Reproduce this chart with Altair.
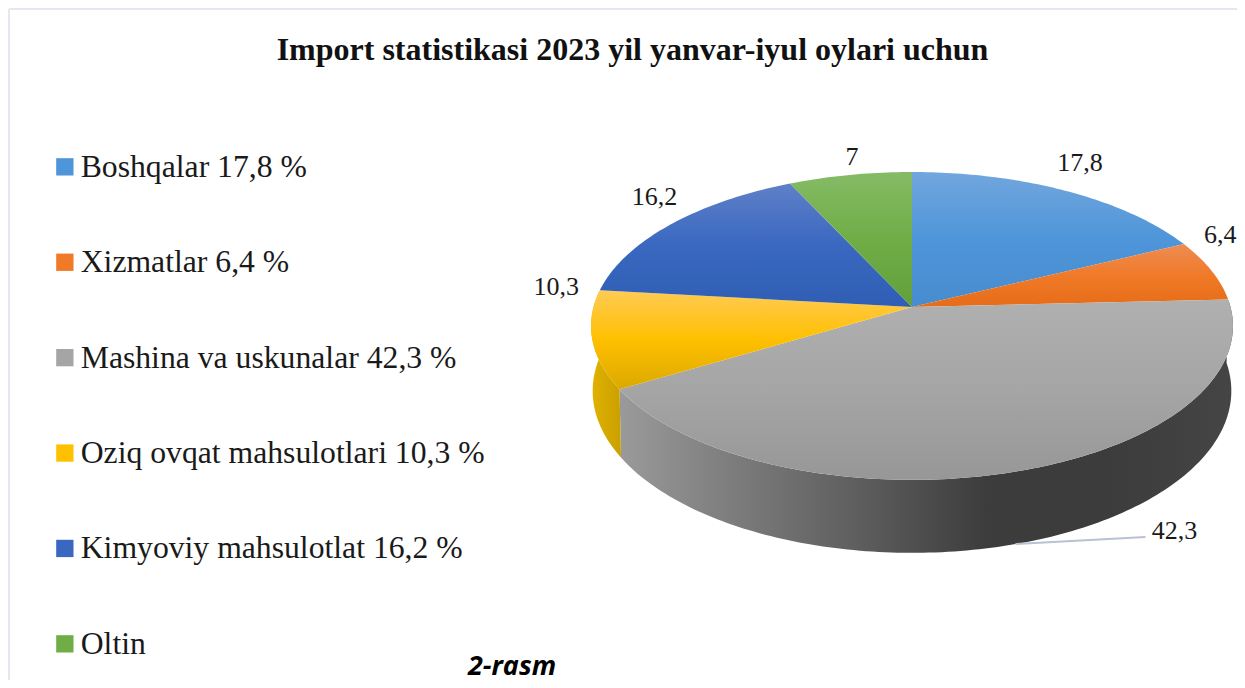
import math
import altair as alt

# ---- data ----
categories = ["Boshqalar 17,8 %", "Xizmatlar 6,4 %", "Mashina va uskunalar 42,3 %",
              "Oziq ovqat mahsulotlari 10,3 %", "Kimyoviy mahsulotlat 16,2 %", "Oltin"]
values = [17.8, 6.4, 42.3, 10.3, 16.2, 7.0]
value_labels = ["17,8", "6,4", "42,3", "10,3", "16,2", "7"]
title_text = "Import statistikasi 2023 yil yanvar-iyul oylari uchun"
caption_text = ["2-rasm"]

# ---- styles ----
base_colors = ["#4e95d9", "#f07a28", "#a5a5a5", "#ffc000", "#3a68c0", "#70ad47"]
top_stops = [
    ("#72a6de", "#4e95d9", "#478cce"),
    ("#ee8c55", "#f07a28", "#e66c18"),
    ("#b0b0b0", "#a5a5a5", "#979797"),
    ("#ffcb55", "#ffc000", "#dca800"),
    ("#5f80c8", "#3a68c0", "#2f5eb4"),
    ("#85bb66", "#70ad47", "#62a03c"),
]
FONT = "Liberation Serif"
W, H = 1229, 672

# ---- 3D pie geometry: perspective projection of the disc ----
AX, BY, K, CX, CY, DEPTH, SHRINK = 318.5, 151.6, 0.123, 904, 299, 64, 0.995
label_offsets = [(15, -28), (9, -35), (159, -13), (-36, -53), (-16, -28), (2, -18)]


def top_pt(deg):
    t = math.radians(deg)
    sx, cy = math.sin(t), math.cos(t)
    w = 1 + K * cy
    return [CX + AX * sx / w, CY - BY * cy / w]


def bottom_pt(deg):
    t = math.radians(deg)
    sx, cy = math.sin(t), math.cos(t)
    w = 1 + K * cy
    return [CX + SHRINK * AX * sx / w, CY - BY * cy / w + DEPTH / w]


def angles(a, b):
    n = max(2, int((b - a) / 1.0))
    return [a + (b - a) * i / n for i in range(n + 1)]


def feature(ring):
    ring = ring + [ring[0]]
    return {"type": "Feature", "properties": {},
            "geometry": {"type": "Polygon", "coordinates": [ring]}}


bounds = [0.0]
for v in values:
    bounds.append(bounds[-1] + v * 3.6)


def grad(stops, horizontal=False):
    n = len(stops) - 1
    return alt.LinearGradient(
        gradient="linear",
        stops=[alt.GradientStop(color=c, offset=i / n) for i, c in enumerate(stops)],
        x1=0, x2=1 if horizontal else 0, y1=0, y2=0 if horizontal else 1,
    )


def shape(ring, fill):
    return alt.Chart(alt.Data(values=[feature(ring)])).mark_geoshape(
        fill=fill, strokeWidth=0
    ).project(type="identity", scale=1, translate=[0, 0])


layers = []

# side walls (Mashina, Oziq ovqat)
wall_fills = {
    2: grad(["#9a9a9a", "#7a7a7a", "#5c5c5c", "#3c3c3c", "#3c3c3c", "#454545"], horizontal=True),
    3: grad(["#e2b200", "#c9a000"], horizontal=True),
}
for i, fill in wall_fills.items():
    a = angles(bounds[i], bounds[i + 1])
    layers.append(shape([top_pt(d) for d in a] + [bottom_pt(d) for d in reversed(a)], fill))

# top faces
for i, stops in enumerate(top_stops):
    a = angles(bounds[i], bounds[i + 1])
    layers.append(shape([[CX, CY]] + [top_pt(d) for d in a], grad(stops)))

xs = alt.Scale(domain=[0, W], nice=False, zero=False)
ys = alt.Scale(domain=[H, 0], nice=False, zero=False)
X = lambda f: alt.X(f, type="quantitative", scale=xs, axis=None)
Y = lambda f: alt.Y(f, type="quantitative", scale=ys, axis=None)

# leader line for the largest slice
mid = [(bounds[i] + bounds[i + 1]) / 2 for i in range(len(values))]
lead_start = bottom_pt(mid[2])
leader = [
    {"x": lead_start[0], "y": lead_start[1], "o": 0},
    {"x": lead_start[0] + 130, "y": lead_start[1] - 7, "o": 1},
]
layers.append(
    alt.Chart(alt.Data(values=leader)).mark_line(color="#b7c2d2", strokeWidth=2)
    .encode(x=X("x"), y=Y("y"), order=alt.Order("o:Q"))
)

# data labels
label_rows = []
for i, txt in enumerate(value_labels):
    base = bottom_pt(mid[i]) if i == 2 else top_pt(mid[i])
    label_rows.append({"x": base[0] + label_offsets[i][0], "y": base[1] + label_offsets[i][1], "t": txt})
layers.append(
    alt.Chart(alt.Data(values=label_rows)).mark_text(
        font=FONT, fontSize=26, color="#1a1a1a", align="center", baseline="middle"
    ).encode(x=X("x"), y=Y("y"), text="t:N")
)

# caption
layers.append(
    alt.Chart(alt.Data(values=[{"x": 504, "y": 659, "t": caption_text[0]}])).mark_text(
        font="Open Sans", fontSize=27, fontWeight="bold", fontStyle="italic",
        color="#000000", align="center", baseline="middle"
    ).encode(x=X("x"), y=Y("y"), text="t:N")
)

# frame: top and left hairlines
layers.append(
    alt.Chart(alt.Data(values=[{"a": 0}])).mark_rule(color="#e3e8ee", strokeWidth=2)
    .encode(x=alt.value(1), x2=alt.value(W), y=alt.value(1))
)
layers.append(
    alt.Chart(alt.Data(values=[{"a": 0}])).mark_rule(color="#e3e8ee", strokeWidth=2)
    .encode(x=alt.value(1), y=alt.value(1), y2=alt.value(H))
)

# legend
legend_rows = [{"c": c} for c in categories]
layers.append(
    alt.Chart(alt.Data(values=legend_rows)).mark_square(size=0, opacity=1)
    .encode(
        x=alt.value(0), y=alt.value(0),
        color=alt.Color(
            "c:N",
            scale=alt.Scale(domain=categories, range=base_colors),
            legend=alt.Legend(
                title=None, orient="none", legendX=41, legendY=143,
                symbolType="square", symbolSize=300, symbolStrokeWidth=0,
                symbolOpacity=1, labelFont=FONT, labelFontSize=31.7, labelColor="#1a1a1a",
                labelOffset=0, rowPadding=62.4, labelLimit=500, padding=0,
            ),
        ),
    )
)

chart = alt.layer(*layers).properties(
    width=W, height=H,
    padding=0,
    autosize=alt.AutoSizeParams(type="none"),
    title=alt.TitleParams(
        title_text, font=FONT, fontSize=32, fontWeight="bold", color="#111111",
        anchor="middle", dx=10, offset=-59,
    ),
).configure_view(stroke=None)

chart.save("out.html", embed_options={"renderer": "svg", "actions": False})
